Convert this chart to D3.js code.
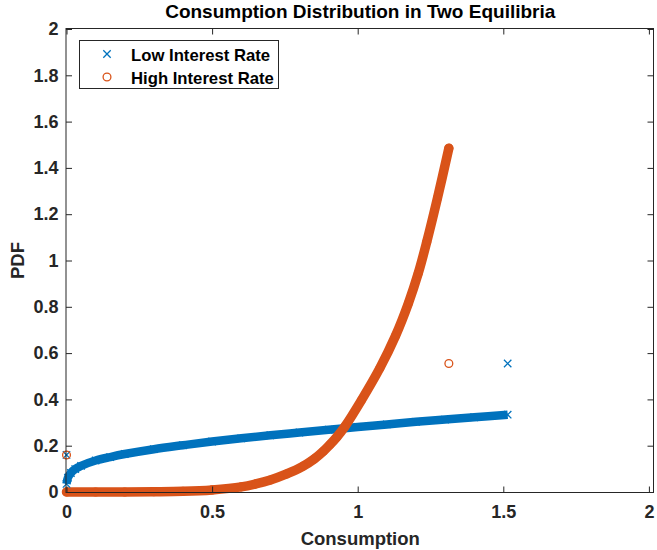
<!DOCTYPE html>
<html>
<head>
<meta charset="utf-8">
<script src="https://cdn.jsdelivr.net/npm/d3@7"></script>
<style>
  body { margin: 0; background: #fff; }
  svg text { font-family: "Liberation Sans", Arial, Helvetica, sans-serif; font-weight: bold; fill: #262626; }
  .axis path { display: none; }
  .axis line { stroke: #262626; }
</style>
</head>
<body>
<div id="chart"></div>
<script>
// values
var lowC   = [0, 0.005, 0.015, 0.03, 0.05, 0.1, 0.15, 0.2, 0.3, 0.4, 0.5, 0.6, 0.7, 0.8, 0.9, 1.0, 1.1, 1.2, 1.3, 1.4, 1.515];
var lowPdf = [0.035, 0.062, 0.082, 0.099, 0.113, 0.136, 0.151, 0.164, 0.185, 0.202, 0.218, 0.232, 0.245, 0.257, 0.269, 0.281, 0.292, 0.303, 0.313, 0.323, 0.334];

var highC   = [0, 0.1, 0.2, 0.3, 0.4, 0.5, 0.6, 0.65, 0.7, 0.756, 0.813, 0.85, 0.882, 0.905, 0.928, 0.956, 1.013, 1.076, 1.13, 1.174, 1.208, 1.237, 1.274, 1.313];
var highPdf = [0, 0, 0, 0.001, 0.003, 0.009, 0.022, 0.035, 0.052, 0.078, 0.112, 0.142, 0.176, 0.205, 0.237, 0.283, 0.397, 0.535, 0.675, 0.815, 0.945, 1.08, 1.27, 1.485];

// isolated points
var lowExtraC = [0, 1.515], lowExtraPdf = [0.16, 0.555];
var highExtraC = [0, 1.313], highExtraPdf = [0.16, 0.555];

var xTicks = [0, 0.5, 1, 1.5, 2];
var yTicks = [0, 0.2, 0.4, 0.6, 0.8, 1, 1.2, 1.4, 1.6, 1.8, 2];
var seriesNames = ['Low Interest Rate', 'High Interest Rate'];

var blue = '#0072BD', orange = '#D95319';

var W = 657, H = 550;
var pLeft = 66.5, pRight = 654, pTop = 29, pBottom = 492;

var svg = d3.select('#chart').append('svg').attr('width', W).attr('height', H);

var x = d3.scaleLinear().domain([0, 2.0175]).range([pLeft, pRight]);
var y = d3.scaleLinear().domain([0, 2]).range([pBottom, pTop]);

function zip(a, b) { return a.map(function (v, i) { return [v, b[i]]; }); }
var low = zip(lowC, lowPdf), high = zip(highC, highPdf);

var line = d3.line().x(function (d) { return x(d[0]); }).y(function (d) { return y(d[1]); })
  .curve(d3.curveCatmullRom.alpha(0.5));

var plot = svg.append('g');

// dense marker bands
plot.append('path').attr('d', line(low)).attr('fill', 'none')
  .attr('stroke', blue).attr('stroke-width', 8.5).attr('stroke-linecap', 'butt');
plot.append('path').attr('d', line(high)).attr('fill', 'none')
  .attr('stroke', orange).attr('stroke-width', 9.5).attr('stroke-linecap', 'round');

function cross(g, pts) {
  g.selectAll(null).data(pts).enter().append('path')
    .attr('transform', function (d) { return 'translate(' + x(d[0]) + ',' + y(d[1]) + ')'; })
    .attr('d', 'M-3.7,-3.7L3.7,3.7M-3.7,3.7L3.7,-3.7')
    .attr('stroke', blue).attr('stroke-width', 1.3).attr('fill', 'none');
}
function ring(g, pts) {
  g.selectAll(null).data(pts).enter().append('circle')
    .attr('cx', function (d) { return x(d[0]); }).attr('cy', function (d) { return y(d[1]); })
    .attr('r', 3.9).attr('fill', 'none').attr('stroke', orange).attr('stroke-width', 1.3);
}
cross(plot.append('g'), low.concat(zip(lowExtraC, lowExtraPdf)));
ring(plot.append('g'), high.concat(zip(highExtraC, highExtraPdf)));

// axes with inward ticks, box on
var fmt = function (d) { return d3.format('')(d); };
svg.append('g').attr('class', 'axis').attr('transform', 'translate(0,' + (pBottom + 0.5) + ')')
  .call(d3.axisBottom(x).tickValues(xTicks).tickFormat(fmt).tickSizeInner(-6).tickSizeOuter(0).tickPadding(13))
  .selectAll('text').style('font-size', '18px');
svg.append('g').attr('class', 'axis').attr('transform', 'translate(0,' + (pTop - 0.5) + ')')
  .call(d3.axisTop(x).tickValues(xTicks).tickFormat('').tickSizeInner(-6).tickSizeOuter(0));
svg.append('g').attr('class', 'axis').attr('transform', 'translate(' + (pLeft - 0.5) + ',0)')
  .call(d3.axisLeft(y).tickValues(yTicks).tickFormat(fmt).tickSizeInner(-6).tickSizeOuter(0).tickPadding(7.5))
  .selectAll('text').style('font-size', '18px');
svg.append('g').attr('class', 'axis').attr('transform', 'translate(' + (pRight - 0.5) + ',0)')
  .call(d3.axisRight(y).tickValues(yTicks).tickFormat('').tickSizeInner(-6).tickSizeOuter(0));

svg.append('rect').attr('x', pLeft - 0.5).attr('y', pTop - 0.5)
  .attr('width', pRight - pLeft).attr('height', pBottom - pTop + 1)
  .attr('fill', 'none').attr('stroke', '#262626').attr('stroke-width', 1);

// titles
svg.append('text').attr('x', (pLeft + pRight) / 2).attr('y', 18).attr('text-anchor', 'middle')
  .style('font-size', '19px').style('fill', '#000').text('Consumption Distribution in Two Equilibria');
svg.append('text').attr('x', (pLeft + pRight) / 2).attr('y', 545).attr('text-anchor', 'middle')
  .style('font-size', '18.5px').text('Consumption');
svg.append('text').attr('transform', 'translate(24,' + (pTop + pBottom) / 2 + ') rotate(-90)')
  .attr('text-anchor', 'middle').style('font-size', '18.5px').text('PDF');

// legend
var leg = svg.append('g');
leg.append('rect').attr('x', 79.5).attr('y', 40.5).attr('width', 199).attr('height', 48)
  .attr('fill', '#fff').attr('stroke', '#262626').attr('stroke-width', 1);
leg.append('path').attr('d', 'M103.3,50.3L110.7,57.7M103.3,57.7L110.7,50.3')
  .attr('stroke', blue).attr('stroke-width', 1.3);
leg.append('circle').attr('cx', 107).attr('cy', 77).attr('r', 3.9)
  .attr('fill', 'none').attr('stroke', orange).attr('stroke-width', 1.3);
leg.selectAll('.lt').data(seriesNames).enter().append('text').attr('class', 'lt')
  .attr('x', 131).attr('y', function (d, i) { return 60.5 + i * 23; })
  .style('font-size', '16.7px').style('fill', '#000').text(function (d) { return d; });
</script>
</body>
</html>
